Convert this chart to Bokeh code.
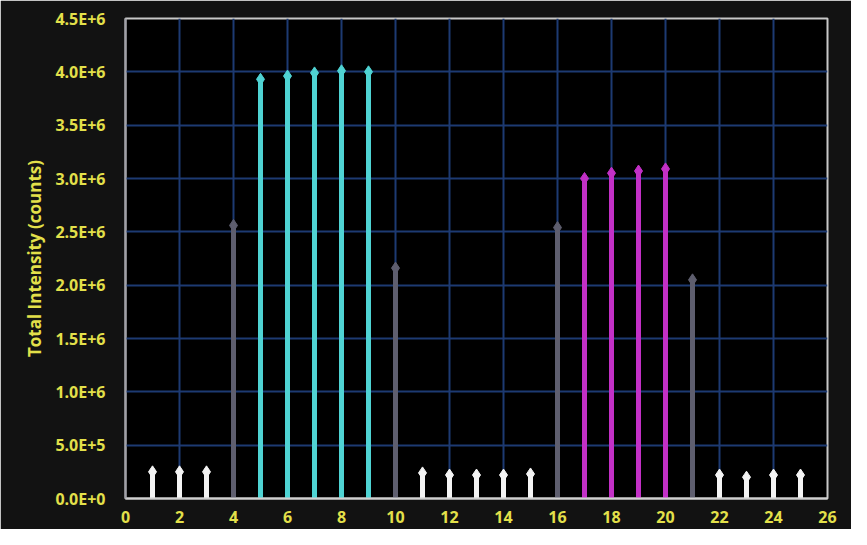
from bokeh.plotting import figure
from bokeh.models import ColumnDataSource, FixedTicker, CustomJSTickFormatter, Range1d
from bokeh.embed import file_html
from bokeh.resources import INLINE

# Data
white_x = [1, 2, 3, 11, 12, 13, 14, 15, 22, 23, 24, 25]
white_y = [2.5e5, 2.5e5, 2.5e5, 2.4e5, 2.2e5, 2.2e5, 2.2e5, 2.3e5, 2.2e5, 2.0e5, 2.2e5, 2.2e5]
gray_x = [4, 10, 16, 21]
gray_y = [2.56e6, 2.16e6, 2.54e6, 2.05e6]
cyan_x = [5, 6, 7, 8, 9]
cyan_y = [3.93e6, 3.96e6, 3.99e6, 4.01e6, 4.0e6]
magenta_x = [17, 18, 19, 20]
magenta_y = [3.0e6, 3.05e6, 3.07e6, 3.09e6]

x_ticks = list(range(0, 27, 2))
y_ticks = [0, 5e5, 1e6, 1.5e6, 2e6, 2.5e6, 3e6, 3.5e6, 4e6, 4.5e6]

YELLOW = "#e3e04a"

p = figure(width=851, height=529, output_backend="svg", toolbar_location=None,
           x_range=Range1d(0, 26), y_range=Range1d(0, 4.5e6),
           min_border_left=125, min_border_right=24, min_border_top=18, min_border_bottom=31)
p.background_fill_color = "#000000"
p.border_fill_color = "#121212"
p.outline_line_color = "#c8c8c8"
p.outline_line_width = 2

for axis in (p.xaxis[0], p.yaxis[0]):
    axis.major_label_text_color = YELLOW
    axis.major_label_text_font = "Open Sans"
    axis.major_label_text_font_style = "bold"
    axis.major_label_text_font_size = "16px"
    axis.major_tick_line_color = None
    axis.minor_tick_line_color = None
    axis.axis_line_width = 2
p.xaxis.axis_line_color = "#d0d0d0"
p.yaxis.axis_line_color = "#a0a0a8"

p.xaxis.ticker = FixedTicker(ticks=x_ticks)
p.yaxis.ticker = FixedTicker(ticks=y_ticks)
p.yaxis.formatter = CustomJSTickFormatter(code="return tick.toExponential(1).toUpperCase();")
p.xaxis.major_label_standoff = 6
p.yaxis.major_label_standoff = 14
p.yaxis.axis_label = "Total Intensity (counts)"
p.yaxis.axis_label_text_color = YELLOW
p.yaxis.axis_label_text_font = "Open Sans"
p.yaxis.axis_label_text_font_style = "bold"
p.yaxis.axis_label_text_font_size = "17px"
p.yaxis.axis_label_standoff = 6

p.xgrid.ticker = FixedTicker(ticks=x_ticks)
p.ygrid.ticker = FixedTicker(ticks=y_ticks)
p.grid.grid_line_color = "#1d3a72"
p.grid.grid_line_width = 2

series = [
    (white_x, white_y, "#f4f4f4"),
    (gray_x, gray_y, "#5e5e6e"),
    (cyan_x, cyan_y, "#4fd3d3"),
    (magenta_x, magenta_y, "#c230c6"),
]
for xs, ys, col in series:
    src = ColumnDataSource(dict(x=xs, y=ys, y0=[0] * len(xs)))
    p.segment(x0="x", y0="y0", x1="x", y1="y", source=src, line_color=col, line_width=5)
    p.scatter(x="x", y="y", source=src, marker="diamond", size=12,
              fill_color=col, line_color=col)

open("out.html", "w").write(file_html(p, INLINE))
